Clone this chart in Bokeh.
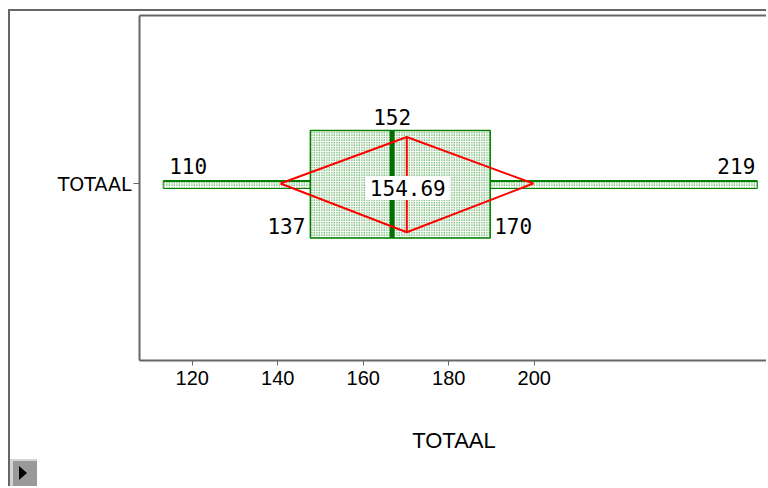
from bokeh.plotting import figure
from bokeh.models import Range1d, LinearAxis, FixedTicker, Label, ColumnDataSource
from bokeh.embed import file_html
from bokeh.resources import INLINE

# ---- data ----
categories = ["TOTAAL"]
minimum = [110]
q1 = [137]
median = [152]
q3 = [170]
maximum = [219]
mean = [154.69]
ci_low = [131.5]
ci_high = [177.9]
axis_ticks = [120, 140, 160, 180, 200]

# ---- styles / layout constants ----
GREEN = "#008000"
DKGREEN = "#007000"
RED = "#ff0000"
GRAY = "#666666"
NUMFONT = "DejaVu Sans Mono"

ypos = {c: 0.0 for c in categories}
BOX_H = (0.53, -0.545)
DIA_H = (0.465, -0.487)
WH_H = (0.025, -0.05)

p = figure(width=758, height=477, output_backend="svg", toolbar_location=None,
           x_range=Range1d(105.65, 221.06), y_range=Range1d(-1.77, 1.68),
           min_border_left=129, min_border_top=4, min_border_bottom=128,
           min_border_right=0, x_axis_location=None, y_axis_location=None)
p.grid.visible = False
p.outline_line_color = None
p.background_fill_color = "white"
p.border_fill_color = None

# displayed axis scale (as in the reference)
p.extra_x_ranges = {"ax": Range1d(107.67, 254.8)}
xax = LinearAxis(x_range_name="ax", ticker=FixedTicker(ticks=axis_ticks),
                 axis_label="TOTAAL")
xax.axis_line_color = GRAY
xax.axis_line_width = 2
xax.major_tick_line_color = GRAY
xax.major_tick_out = 5
xax.major_tick_in = 0
xax.minor_tick_out = 0
xax.minor_tick_in = 0
xax.major_label_text_font = "Liberation Sans"
xax.major_label_text_font_size = "20px"
xax.major_label_text_color = "black"
xax.major_label_standoff = 5
xax.axis_label_text_font = "Liberation Sans"
xax.axis_label_text_font_size = "22px"
xax.axis_label_text_font_style = "normal"
xax.axis_label_text_color = "black"
xax.axis_label_standoff = 40
p.add_layout(xax, "below")

yax = LinearAxis(ticker=FixedTicker(ticks=[ypos[c] for c in categories]),
                 major_label_overrides={ypos[c]: c for c in categories})
yax.axis_line_color = GRAY
yax.axis_line_width = 2
yax.major_tick_line_color = GRAY
yax.major_tick_out = 6
yax.major_tick_in = 0
yax.minor_tick_out = 0
yax.minor_tick_in = 0
yax.major_label_text_font = "DejaVu Sans"
yax.major_label_text_font_size = "19px"
yax.major_label_text_color = "black"
yax.major_label_standoff = 2
p.add_layout(yax, "left")

top = LinearAxis(ticker=FixedTicker(ticks=[]))
top.axis_line_color = GRAY
top.axis_line_width = 2
top.major_tick_out = 0
top.minor_tick_out = 0
top.major_label_standoff = 0
top.major_label_text_font_size = "0px"
p.add_layout(top, "above")

y0 = [ypos[c] for c in categories]
src = ColumnDataSource(dict(
    y=y0, mn=minimum, q1=q1, med=median, q3=q3, mx=maximum, mean=mean,
    lo=ci_low, hi=ci_high,
    wt=[y + WH_H[0] for y in y0], wb=[y + WH_H[1] for y in y0],
    bt=[y + BOX_H[0] for y in y0], bb=[y + BOX_H[1] for y in y0],
    dt=[y + DIA_H[0] for y in y0], db=[y + DIA_H[1] for y in y0],
))

hatch = dict(fill_color="white", hatch_pattern=".", hatch_color=GREEN,
             hatch_scale=2.5, hatch_weight=2)

# whisker
p.quad(left="mn", right="mx", top="wt", bottom="wb", source=src,
       line_color=GREEN, line_width=1, **hatch)
p.segment(x0="mn", x1="mx", y0="wt", y1="wt", source=src, line_color=GREEN, line_width=2)
# box
p.quad(left="q1", right="q3", top="bt", bottom="bb", source=src,
       line_color=GREEN, line_width=1.5, **hatch)
# median
p.segment(x0="med", x1="med", y0="bt", y1="bb", source=src, line_color=DKGREEN, line_width=5)
# mean diamond
for i in range(len(categories)):
    yc = y0[i]
    p.line(x=[ci_low[i], mean[i], ci_high[i], mean[i], ci_low[i]],
           y=[yc, yc + DIA_H[0], yc, yc + DIA_H[1], yc],
           line_color=RED, line_width=2)
p.segment(x0="mean", x1="mean", y0="dt", y1="db", source=src, line_color=RED, line_width=2)

# labels
def lab(x, y, text, align, baseline="alphabetic", xoff=0, **kw):
    p.add_layout(Label(x=x, y=y, text=text, text_align=align, text_baseline=baseline,
                       x_offset=xoff, text_font=NUMFONT, text_font_size="21px",
                       text_color="black", **kw))

for i in range(len(categories)):
    yc = y0[i]
    lab(minimum[i], yc + 0.18, f"{minimum[i]}", "left", xoff=6)
    lab(maximum[i], yc + 0.18, f"{maximum[i]}", "right", xoff=-2)
    lab(median[i], yc + 0.67, f"{median[i]}", "center")
    lab(q1[i], yc - 0.42, f"{q1[i]}", "right", xoff=-5)
    lab(q3[i], yc - 0.42, f"{q3[i]}", "left", xoff=4)
    lab(mean[i], yc - 0.045, f"{mean[i]:.2f}", "center", baseline="middle", xoff=1,
        background_fill_color="white", padding=4)

# small control icon at bottom-left of the window (page decoration)
icon = ("data:image/svg+xml;utf8,<svg xmlns='http://www.w3.org/2000/svg' width='27' height='27'>"
        "<rect width='27' height='27' fill='%23d4d4d4'/>"
        "<rect x='3' y='2' width='24' height='25' fill='%23999999'/>"
        "<polygon points='9,7 9,21 17,14' fill='black'/></svg>")
p.styles = {"border-left": "2px solid #666666", "border-top": "2px solid #666666",
            "margin-left": "8px", "margin-top": "9px",
            "background": f"white url(\"{icon}\") no-repeat left bottom"}

open("out.html", "w").write(file_html(p, INLINE))
